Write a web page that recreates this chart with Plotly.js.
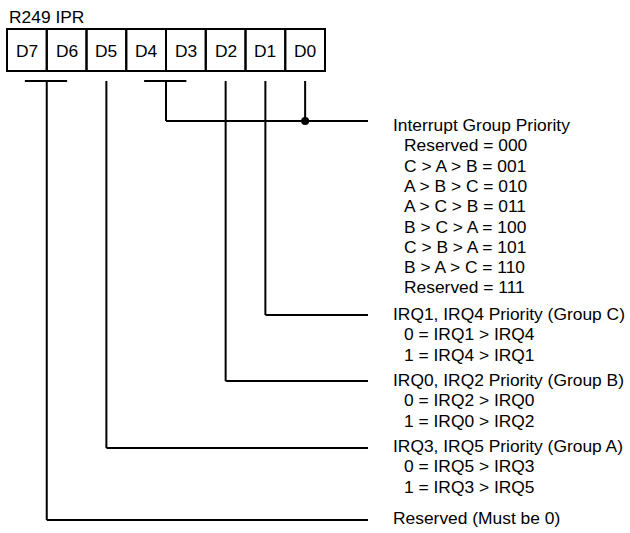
<!DOCTYPE html>
<html>
<head>
<meta charset="utf-8">
<script src="https://cdn.plot.ly/plotly-3.0.1.min.js"></script>
<style>html,body{margin:0;padding:0;background:#fff;}#plot{width:630px;height:533px;}</style>
</head>
<body>
<div id="plot"></div>
<script>
// ---- data ----
var registerName = 'R249 IPR';
var bits = ['D7', 'D6', 'D5', 'D4', 'D3', 'D2', 'D1', 'D0'];
var fieldNames = ['Interrupt Group Priority', 'IRQ1, IRQ4 Priority (Group C)', 'IRQ0, IRQ2 Priority (Group B)', 'IRQ3, IRQ5 Priority (Group A)', 'Reserved (Must be 0)'];
var groupPriorityCodes = ['Reserved = 000', 'C > A > B = 001', 'A > B > C = 010', 'A > C > B = 011', 'B > C > A = 100', 'C > B > A = 101', 'B > A > C = 110', 'Reserved = 111'];
var groupCCodes = ['0 = IRQ1 > IRQ4', '1 = IRQ4 > IRQ1'];
var groupBCodes = ['0 = IRQ2 > IRQ0', '1 = IRQ0 > IRQ2'];
var groupACodes = ['0 = IRQ5 > IRQ3', '1 = IRQ3 > IRQ5'];
var reservedCodes = [];
var fieldBits = [[4, 3, 0], [1], [2], [5], [7, 6]];   // bit numbers feeding each field
var fieldCodes = [groupPriorityCodes, groupCCodes, groupBCodes, groupACodes, reservedCodes];

// ---- layout constants ----
var boxX0 = 7, cellW = 39.75, boxTop = 29, boxBot = 71;
var bracketY = 81, lineEndX = 368;
var fieldLineY = [121, 315, 381, 448, 520];
var fieldTextY = [125, 314, 380, 446, 518];
var headX = 391, subX = 402, rowGap = 20.3;
var FONT = 'Liberation Sans, Arial, sans-serif';
var FS = 17.4;
var LW = 2;

function bitIndex(b) { return 7 - b; }
function bitCenter(b) { return boxX0 + (bitIndex(b) + 0.5) * cellW; }

var shapes = [];
var annotations = [];
function line(x0, y0, x1, y1) {
  shapes.push({type: 'line', xref: 'x', yref: 'y', x0: x0, y0: y0, x1: x1, y1: y1,
    line: {color: '#000', width: LW}});
}

// register cells
bits.forEach(function (name, i) {
  shapes.push({type: 'rect', xref: 'x', yref: 'y', x0: boxX0 + i * cellW, x1: boxX0 + (i + 1) * cellW,
    y0: boxTop, y1: boxBot, line: {color: '#000', width: LW}, fillcolor: 'rgba(0,0,0,0)'});
  annotations.push({x: boxX0 + (i + 0.5) * cellW, y: (boxTop + boxBot) / 2 + 1, xref: 'x', yref: 'y',
    text: name, showarrow: false, xanchor: 'center', yanchor: 'middle',
    font: {family: FONT, size: FS, color: '#000'}});
});
annotations.push({x: boxX0, y: 17, xref: 'x', yref: 'y', text: registerName, showarrow: false,
  xanchor: 'left', yanchor: 'middle', font: {family: FONT, size: FS, color: '#000'}});

// connectors
// field 0: D4-D3 bracket + D0 with junction dot
(function () {
  var y = fieldLineY[0];
  var c4 = bitCenter(4), c3 = bitCenter(3), mid = (c4 + c3) / 2, c0 = bitCenter(0);
  line(c4 - 2, bracketY, c3 + 0.5, bracketY);
  line(mid, bracketY, mid, y);
  line(mid, y, lineEndX, y);
  line(c0, bracketY, c0, y);
  shapes.push({type: 'circle', xref: 'x', yref: 'y', x0: c0 - 4, x1: c0 + 4, y0: y - 4, y1: y + 4,
    fillcolor: '#000', line: {color: '#000', width: 0}});
})();
// single-bit fields
[1, 2, 3].forEach(function (f) {
  var c = bitCenter(fieldBits[f][0]), y = fieldLineY[f];
  line(c, bracketY, c, y);
  line(c, y, lineEndX, y);
});
// reserved D7-D6
(function () {
  var c7 = bitCenter(7), c6 = bitCenter(6), mid = (c7 + c6) / 2, y = fieldLineY[4];
  line(c7 - 2, bracketY, c6 + 0.5, bracketY);
  line(mid, bracketY, mid, y);
  line(mid, y, lineEndX, y);
})();

// field texts
fieldNames.forEach(function (name, f) {
  annotations.push({x: headX, y: fieldTextY[f], xref: 'x', yref: 'y', text: name, showarrow: false,
    xanchor: 'left', yanchor: 'middle', font: {family: FONT, size: FS, color: '#000'}});
  fieldCodes[f].forEach(function (code, k) {
    annotations.push({x: subX, y: fieldTextY[f] + (k + 1) * rowGap, xref: 'x', yref: 'y', text: code,
      showarrow: false, xanchor: 'left', yanchor: 'middle', font: {family: FONT, size: FS, color: '#000'}});
  });
});

var layout = {
  width: 630, height: 533,
  margin: {l: 0, r: 0, t: 0, b: 0, pad: 0},
  paper_bgcolor: '#fff', plot_bgcolor: '#fff',
  showlegend: false,
  xaxis: {range: [0, 630], visible: false, fixedrange: true},
  yaxis: {range: [533, 0], visible: false, fixedrange: true},
  shapes: shapes,
  annotations: annotations
};

Plotly.newPlot('plot', [{x: [], y: [], type: 'scatter', mode: 'markers', hoverinfo: 'skip'}], layout,
  {displayModeBar: false, staticPlot: true});
</script>
</body>
</html>
